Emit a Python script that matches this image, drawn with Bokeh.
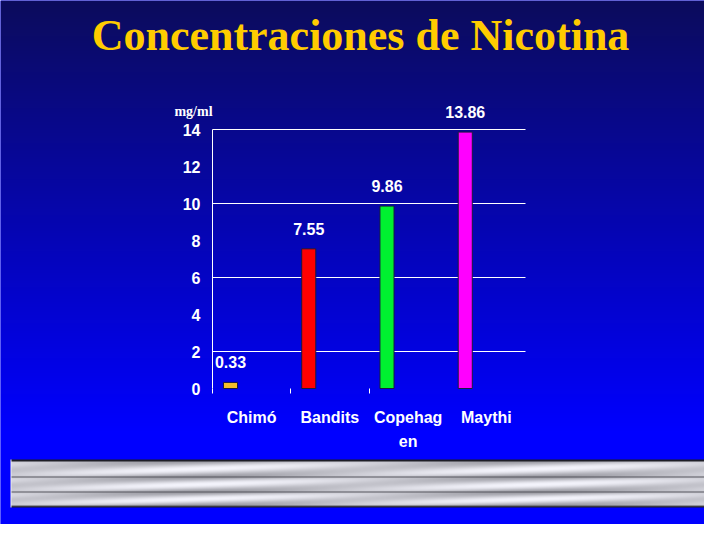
import numpy as np

from bokeh.plotting import figure
from bokeh.models import Range1d, LinearAxis, FixedTicker, Label
from bokeh.transform import dodge
from bokeh.core.properties import value
from bokeh.embed import file_html
from bokeh.resources import INLINE

# data
categories = ["Chimó", "Bandits", "Copehagen", "Maythi"]
tick_labels = ["Chimó", "Bandits", "Copehag\nen", "Maythi"]
concentration = [0.33, 7.55, 9.86, 13.86]
value_labels = ["0.33", "7.55", "9.86", "13.86"]
bar_colors = ["#F5BE2A", "#FF0000", "#00F030", "#FF00FF"]
y_ticks = [0, 2, 4, 6, 8, 10, 12, 14]
grid_values = [2, 6, 10, 14]
boundary_ticks = [-0.5, 0.5, 1.5]

# layout of the slide (in page pixels)
PX_L, PX_R, PX_T, PX_B = 0, 704, 0, 524
AXIS_PX, CAT_W = 212, 78.25
ZERO_PY, UNIT_PY = 388, 18.5

x_range = Range1d((PX_L - AXIS_PX) / CAT_W - 0.5, (PX_R - AXIS_PX) / CAT_W - 0.5)
y_range = Range1d((ZERO_PY - PX_B) / UNIT_PY, (ZERO_PY - PX_T) / UNIT_PY)

p = figure(width=PX_R - PX_L, height=PX_B - PX_T, x_range=x_range, y_range=y_range,
           x_axis_type=None, y_axis_type=None, min_border=0,
           toolbar_location=None, output_backend="svg")
p.outline_line_color = None
p.background_fill_color = "#0000FF"
p.border_fill_color = "#0000FF"
p.extra_x_ranges = {"px": Range1d(PX_L, PX_R)}
p.extra_y_ranges = {"pg": Range1d(-PX_B, -PX_T)}

# background gradient, navy at the top to pure blue at the bottom
rows = np.arange(PX_B, PX_T, -1) - 0.5
f = np.clip(rows / 430.0, 0, 1)
bg = np.zeros((len(rows), 1, 4), dtype=np.uint8)
bg[:, 0, 0] = (12 * (1 - f)).astype(np.uint8)
bg[:, 0, 1] = (12 * (1 - f)).astype(np.uint8)
bg[:, 0, 2] = (92 + 163 * f).astype(np.uint8)
bg[:, 0, 3] = 255
p.image_rgba(image=[bg.view(np.uint32).reshape(len(rows), 1)], x=PX_L, y=-PX_B,
             dw=PX_R - PX_L, dh=PX_B - PX_T, x_range_name="px", y_range_name="pg")

# metallic strips at the bottom
mx0, mx1, my0, my1 = 10, 710, 459, 507
W, H = mx1 - mx0, my1 - my0
metal = np.zeros((H, W, 4), dtype=np.uint8)
cols = np.arange(W)
strips = [(461, 476), (477, 491), (492, 505)]
gray = np.full((H, W), 30.0)
for top, bot in strips:
    for r in range(top, bot):
        t = (r - top) / (bot - top - 1)
        base = 165 + 55 * np.sin(np.pi * (0.1 + 0.8 * t))
        streak = 25 * np.cos(2 * np.pi * (cols / 340.0 + t * 0.9))
        gray[r - my0, :] = base + streak
    gray[bot - my0, :] = 85
gray[:, 0] = 235
gray[:, -2:] = 25
metal[:, :, 0] = np.clip(gray, 0, 255).astype(np.uint8)
metal[:, :, 1] = np.clip(gray, 0, 255).astype(np.uint8)
metal[:, :, 2] = np.clip(gray + 8, 0, 255).astype(np.uint8)
metal[:, :, 3] = 255
metal = metal[::-1]
p.image_rgba(image=[metal.view(np.uint32).reshape(H, W)], x=mx0, y=-my1, dw=W, dh=H,
             x_range_name="px", y_range_name="pg")

# grid lines (every other tick)
n = len(categories)
p.segment(x0=-0.5, x1=n - 0.5, y0=grid_values, y1=grid_values,
          line_color="white", line_width=1)

# bars
xs = list(range(n))
src = dict(x=xs, value=concentration, label=value_labels, color=bar_colors)
p.vbar(x=dodge("x", -0.27), top="value", width=0.18, source=src,
       fill_color="color", line_color="#1a1a40", line_width=1)
p.text(x=dodge("x", -0.27), y="value", text="label", source=src,
       y_offset=-20, text_align="center", text_baseline="middle",
       text_color="white", text_font=value("Liberation Sans"),
       text_font_style="bold", text_font_size="16px")

# y axis
yaxis = LinearAxis(fixed_location=-0.5, ticker=FixedTicker(ticks=y_ticks), bounds=(0, 14))
yaxis.axis_line_color = "white"
yaxis.major_tick_line_color = None
yaxis.minor_tick_line_color = None
yaxis.major_tick_out = 0
yaxis.major_tick_in = 0
yaxis.major_label_standoff = 12
yaxis.major_label_text_color = "white"
yaxis.major_label_text_font = "Liberation Sans"
yaxis.major_label_text_font_style = "bold"
yaxis.major_label_text_font_size = "16px"
p.add_layout(yaxis, "left")

# category labels, with small ticks at the category boundaries
xaxis = LinearAxis(fixed_location=0,
                   ticker=FixedTicker(ticks=xs, minor_ticks=boundary_ticks),
                   major_label_overrides={i: t for i, t in zip(xs, tick_labels)})
xaxis.axis_line_color = None
xaxis.major_tick_line_color = None
xaxis.major_tick_out = 0
xaxis.major_tick_in = 0
xaxis.minor_tick_line_color = "white"
xaxis.minor_tick_out = 5
xaxis.minor_tick_in = 0
xaxis.major_label_standoff = 15
xaxis.major_label_text_color = "white"
xaxis.major_label_text_font = "Liberation Sans"
xaxis.major_label_text_font_style = "bold"
xaxis.major_label_text_font_size = "16px"
xaxis.major_label_text_line_height = 1.45
p.add_layout(xaxis, "below")

p.add_layout(Label(x=360, y=-35, text="Concentraciones de Nicotina",
                   x_range_name="px", y_range_name="pg",
                   text_align="center", text_baseline="middle",
                   text_font="Liberation Serif", text_font_style="bold",
                   text_font_size="44px", text_color="#FFCC00"))
p.add_layout(Label(x=193, y=-111, text="mg/ml",
                   x_range_name="px", y_range_name="pg",
                   text_align="center", text_baseline="middle",
                   text_font="Liberation Serif", text_font_style="bold",
                   text_font_size="14px", text_color="white"))

open("out.html", "w").write(file_html(p, INLINE))
